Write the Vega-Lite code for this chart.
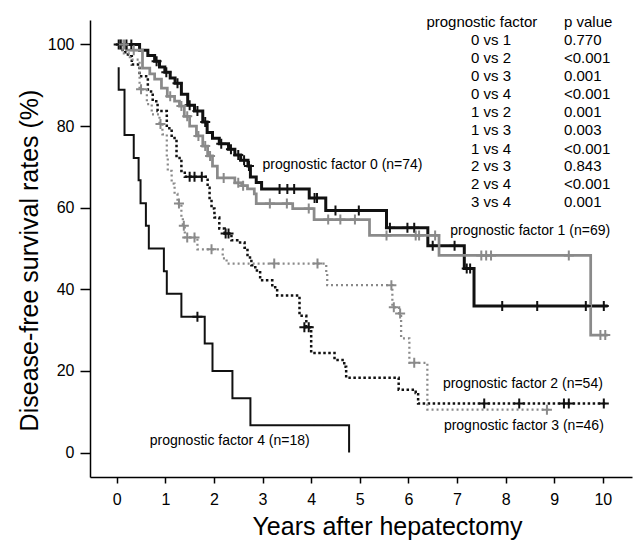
{
  "$schema": "https://vega.github.io/schema/vega-lite/v6.json",
  "width": 542,
  "height": 457,
  "autosize": "none",
  "padding": {"left": 90, "top": 20, "right": 5, "bottom": 65},
  "background": "white",
  "config": {
    "view": {"stroke": null},
    "font": "Liberation Sans",
    "axis": {
      "grid": false,
      "domainColor": "black",
      "domainWidth": 1.5,
      "tickColor": "black",
      "tickWidth": 1.5,
      "labelColor": "black",
      "labelFont": "Liberation Sans",
      "labelFontSize": 16,
      "titleFont": "Liberation Sans",
      "titleFontSize": 25,
      "titleFontWeight": "normal",
      "titleColor": "black"
    }
  },
  "datasets": {
    "curves": [
      {"g": "0", "t": 0, "v": 100}, {"g": "0", "t": 0.47, "v": 98.6}, {"g": "0", "t": 0.64, "v": 97.3}, {"g": "0", "t": 0.78, "v": 95.9}, {"g": "0", "t": 0.88, "v": 94.5}, {"g": "0", "t": 0.99, "v": 93.2}, {"g": "0", "t": 1.1, "v": 91.8}, {"g": "0", "t": 1.2, "v": 90.5}, {"g": "0", "t": 1.33, "v": 87.8}, {"g": "0", "t": 1.46, "v": 85.1}, {"g": "0", "t": 1.6, "v": 83.7}, {"g": "0", "t": 1.77, "v": 81.0}, {"g": "0", "t": 1.86, "v": 78.4}, {"g": "0", "t": 1.97, "v": 77.0}, {"g": "0", "t": 2.11, "v": 75.7}, {"g": "0", "t": 2.3, "v": 74.3}, {"g": "0", "t": 2.43, "v": 72.9}, {"g": "0", "t": 2.55, "v": 71.6}, {"g": "0", "t": 2.7, "v": 70.2}, {"g": "0", "t": 2.75, "v": 67.5}, {"g": "0", "t": 2.87, "v": 66.2}, {"g": "0", "t": 2.98, "v": 64.6}, {"g": "0", "t": 3.96, "v": 62.4}, {"g": "0", "t": 4.3, "v": 59.3}, {"g": "0", "t": 5.55, "v": 55.1}, {"g": "0", "t": 6.4, "v": 50.7}, {"g": "0", "t": 7.15, "v": 45.1}, {"g": "0", "t": 7.35, "v": 35.9}, {"g": "0", "t": 10.1, "v": 35.9},
      {"g": "1", "t": 0, "v": 100}, {"g": "1", "t": 0.2, "v": 98.6}, {"g": "1", "t": 0.53, "v": 94.2}, {"g": "1", "t": 0.68, "v": 92.8}, {"g": "1", "t": 0.78, "v": 91.5}, {"g": "1", "t": 0.92, "v": 89.3}, {"g": "1", "t": 1.04, "v": 87.3}, {"g": "1", "t": 1.19, "v": 86.1}, {"g": "1", "t": 1.29, "v": 84.9}, {"g": "1", "t": 1.39, "v": 82.4}, {"g": "1", "t": 1.5, "v": 80.0}, {"g": "1", "t": 1.64, "v": 77.6}, {"g": "1", "t": 1.77, "v": 75.1}, {"g": "1", "t": 1.87, "v": 72.7}, {"g": "1", "t": 1.97, "v": 70.2}, {"g": "1", "t": 2.07, "v": 67.3}, {"g": "1", "t": 2.43, "v": 66.1}, {"g": "1", "t": 2.57, "v": 65.4}, {"g": "1", "t": 2.69, "v": 64.6}, {"g": "1", "t": 2.83, "v": 63.4}, {"g": "1", "t": 2.87, "v": 61.0}, {"g": "1", "t": 3.62, "v": 59.8}, {"g": "1", "t": 4.06, "v": 57.1}, {"g": "1", "t": 5.2, "v": 53.2}, {"g": "1", "t": 6.63, "v": 48.3}, {"g": "1", "t": 9.75, "v": 28.8}, {"g": "1", "t": 10.1, "v": 28.8},
      {"g": "2", "t": 0, "v": 100}, {"g": "2", "t": 0.12, "v": 98.1}, {"g": "2", "t": 0.23, "v": 97.1}, {"g": "2", "t": 0.31, "v": 95.1}, {"g": "2", "t": 0.47, "v": 92.2}, {"g": "2", "t": 0.64, "v": 88.5}, {"g": "2", "t": 0.74, "v": 86.1}, {"g": "2", "t": 0.84, "v": 83.7}, {"g": "2", "t": 1.03, "v": 79.5}, {"g": "2", "t": 1.13, "v": 77.1}, {"g": "2", "t": 1.23, "v": 72.2}, {"g": "2", "t": 1.33, "v": 69.0}, {"g": "2", "t": 1.4, "v": 67.6}, {"g": "2", "t": 1.87, "v": 64.9}, {"g": "2", "t": 1.91, "v": 62.4}, {"g": "2", "t": 1.95, "v": 59.8}, {"g": "2", "t": 2.01, "v": 57.6}, {"g": "2", "t": 2.11, "v": 54.9}, {"g": "2", "t": 2.22, "v": 53.7}, {"g": "2", "t": 2.36, "v": 52.0}, {"g": "2", "t": 2.48, "v": 51.5}, {"g": "2", "t": 2.63, "v": 50.2}, {"g": "2", "t": 2.69, "v": 47.8}, {"g": "2", "t": 2.77, "v": 45.9}, {"g": "2", "t": 2.85, "v": 44.6}, {"g": "2", "t": 2.95, "v": 42.2}, {"g": "2", "t": 3.2, "v": 40.5}, {"g": "2", "t": 3.3, "v": 38.5}, {"g": "2", "t": 3.76, "v": 33.5}, {"g": "2", "t": 3.9, "v": 30.7}, {"g": "2", "t": 4.0, "v": 24.4}, {"g": "2", "t": 4.48, "v": 22.7}, {"g": "2", "t": 4.68, "v": 21.0}, {"g": "2", "t": 4.72, "v": 18.3}, {"g": "2", "t": 5.8, "v": 15.4}, {"g": "2", "t": 6.15, "v": 14.6}, {"g": "2", "t": 6.2, "v": 12.0}, {"g": "2", "t": 10.1, "v": 12.0},
      {"g": "3", "t": 0, "v": 100}, {"g": "3", "t": 0.12, "v": 97.8}, {"g": "3", "t": 0.27, "v": 96.3}, {"g": "3", "t": 0.47, "v": 89.0}, {"g": "3", "t": 0.62, "v": 85.4}, {"g": "3", "t": 0.72, "v": 82.9}, {"g": "3", "t": 0.88, "v": 80.5}, {"g": "3", "t": 0.94, "v": 78.0}, {"g": "3", "t": 1.03, "v": 72.2}, {"g": "3", "t": 1.05, "v": 69.0}, {"g": "3", "t": 1.13, "v": 65.9}, {"g": "3", "t": 1.19, "v": 63.4}, {"g": "3", "t": 1.25, "v": 61.0}, {"g": "3", "t": 1.33, "v": 57.6}, {"g": "3", "t": 1.36, "v": 55.6}, {"g": "3", "t": 1.4, "v": 52.7}, {"g": "3", "t": 1.66, "v": 49.8}, {"g": "3", "t": 2.18, "v": 47.6}, {"g": "3", "t": 2.26, "v": 46.3}, {"g": "3", "t": 4.31, "v": 43.9}, {"g": "3", "t": 4.33, "v": 41.0}, {"g": "3", "t": 5.67, "v": 35.6}, {"g": "3", "t": 5.81, "v": 34.1}, {"g": "3", "t": 5.85, "v": 28.0}, {"g": "3", "t": 6.02, "v": 22.0}, {"g": "3", "t": 6.39, "v": 10.5}, {"g": "3", "t": 8.89, "v": 10.5},
      {"g": "4", "t": 0.04, "v": 94.4}, {"g": "4", "t": 0.04, "v": 88.9}, {"g": "4", "t": 0.16, "v": 77.8}, {"g": "4", "t": 0.35, "v": 72.2}, {"g": "4", "t": 0.45, "v": 66.7}, {"g": "4", "t": 0.49, "v": 61.1}, {"g": "4", "t": 0.6, "v": 55.6}, {"g": "4", "t": 0.66, "v": 50.0}, {"g": "4", "t": 0.97, "v": 44.4}, {"g": "4", "t": 1.03, "v": 38.9}, {"g": "4", "t": 1.33, "v": 33.3}, {"g": "4", "t": 1.81, "v": 26.7}, {"g": "4", "t": 1.97, "v": 20.0}, {"g": "4", "t": 2.38, "v": 13.3}, {"g": "4", "t": 2.75, "v": 6.7}, {"g": "4", "t": 4.78, "v": 0}
    ],
    "censors": [
      {"g": "0", "t": 0.04, "v": 100}, {"g": "0", "t": 0.2, "v": 100}, {"g": "0", "t": 0.3, "v": 100}, {"g": "0", "t": 0.82, "v": 95.9}, {"g": "0", "t": 1.02, "v": 93.2}, {"g": "0", "t": 1.25, "v": 90.5}, {"g": "0", "t": 1.5, "v": 85.1}, {"g": "0", "t": 1.66, "v": 83.7}, {"g": "0", "t": 1.82, "v": 81.0}, {"g": "0", "t": 2.15, "v": 75.7}, {"g": "0", "t": 2.35, "v": 74.3}, {"g": "0", "t": 2.5, "v": 72.9}, {"g": "0", "t": 2.62, "v": 71.6}, {"g": "0", "t": 2.72, "v": 70.2}, {"g": "0", "t": 3.35, "v": 64.6}, {"g": "0", "t": 3.51, "v": 64.6}, {"g": "0", "t": 3.65, "v": 64.6}, {"g": "0", "t": 4.07, "v": 62.4}, {"g": "0", "t": 4.12, "v": 62.4}, {"g": "0", "t": 4.5, "v": 59.3}, {"g": "0", "t": 4.98, "v": 59.3}, {"g": "0", "t": 5.62, "v": 55.1}, {"g": "0", "t": 5.98, "v": 55.1}, {"g": "0", "t": 6.12, "v": 55.1}, {"g": "0", "t": 6.5, "v": 50.7}, {"g": "0", "t": 6.95, "v": 50.7}, {"g": "0", "t": 7.2, "v": 45.1}, {"g": "0", "t": 7.27, "v": 45.1}, {"g": "0", "t": 7.93, "v": 35.9}, {"g": "0", "t": 8.65, "v": 35.9}, {"g": "0", "t": 9.65, "v": 35.9}, {"g": "0", "t": 10.02, "v": 35.9},
      {"g": "1", "t": 0.1, "v": 100}, {"g": "1", "t": 0.35, "v": 98.6}, {"g": "1", "t": 1.1, "v": 87.3}, {"g": "1", "t": 1.33, "v": 84.9}, {"g": "1", "t": 1.45, "v": 82.4}, {"g": "1", "t": 1.68, "v": 77.6}, {"g": "1", "t": 1.82, "v": 75.1}, {"g": "1", "t": 1.92, "v": 72.7}, {"g": "1", "t": 2.2, "v": 67.3}, {"g": "1", "t": 2.5, "v": 66.1}, {"g": "1", "t": 2.6, "v": 65.4}, {"g": "1", "t": 3.15, "v": 61.0}, {"g": "1", "t": 3.5, "v": 61.0}, {"g": "1", "t": 3.95, "v": 59.8}, {"g": "1", "t": 4.35, "v": 57.1}, {"g": "1", "t": 4.6, "v": 57.1}, {"g": "1", "t": 4.9, "v": 57.1}, {"g": "1", "t": 5.55, "v": 53.2}, {"g": "1", "t": 6.15, "v": 53.2}, {"g": "1", "t": 6.22, "v": 53.2}, {"g": "1", "t": 6.55, "v": 53.2}, {"g": "1", "t": 7.5, "v": 48.3}, {"g": "1", "t": 7.6, "v": 48.3}, {"g": "1", "t": 7.7, "v": 48.3}, {"g": "1", "t": 9.3, "v": 48.3}, {"g": "1", "t": 9.95, "v": 28.8}, {"g": "1", "t": 10.05, "v": 28.8},
      {"g": "2", "t": 0.08, "v": 100}, {"g": "2", "t": 1.5, "v": 67.6}, {"g": "2", "t": 1.6, "v": 67.6}, {"g": "2", "t": 1.75, "v": 67.6}, {"g": "2", "t": 2.24, "v": 53.7}, {"g": "2", "t": 2.3, "v": 53.7}, {"g": "2", "t": 3.86, "v": 30.7}, {"g": "2", "t": 3.95, "v": 30.7}, {"g": "2", "t": 7.56, "v": 12.0}, {"g": "2", "t": 8.28, "v": 12.0}, {"g": "2", "t": 9.2, "v": 12.0}, {"g": "2", "t": 9.3, "v": 12.0}, {"g": "2", "t": 10.02, "v": 12.0},
      {"g": "3", "t": 0.15, "v": 100}, {"g": "3", "t": 0.5, "v": 89.0}, {"g": "3", "t": 0.9, "v": 80.5}, {"g": "3", "t": 1.28, "v": 61.0}, {"g": "3", "t": 1.38, "v": 55.6}, {"g": "3", "t": 1.45, "v": 52.7}, {"g": "3", "t": 1.6, "v": 52.7}, {"g": "3", "t": 1.95, "v": 49.8}, {"g": "3", "t": 3.24, "v": 46.3}, {"g": "3", "t": 4.13, "v": 46.3}, {"g": "3", "t": 5.65, "v": 41.0}, {"g": "3", "t": 5.7, "v": 35.6}, {"g": "3", "t": 5.83, "v": 34.1}, {"g": "3", "t": 6.12, "v": 22.0}, {"g": "3", "t": 8.85, "v": 10.5},
      {"g": "4", "t": 1.66, "v": 33.3}
    ],
    "curveLabels": [
      {"t": 3.0, "v": 70.5, "text": "prognostic factor 0 (n=74)"},
      {"t": 6.86, "v": 54.4, "text": "prognostic factor 1 (n=69)"},
      {"t": 6.71, "v": 16.8, "text": "prognostic factor 2 (n=54)"},
      {"t": 6.73, "v": 6.6, "text": "prognostic factor 3 (n=46)"},
      {"t": 0.68, "v": 2.9, "text": "prognostic factor 4 (n=18)"}
    ],
    "table": [
      {"t": 6.37, "v": 105.6, "text": "prognostic factor"},
      {"t": 9.2, "v": 105.6, "text": "p value"},
      {"t": 7.29, "v": 101.0, "text": "0 vs 1"}, {"t": 9.2, "v": 101.0, "text": "0.770"},
      {"t": 7.29, "v": 96.6, "text": "0 vs 2"}, {"t": 9.2, "v": 96.6, "text": "<0.001"},
      {"t": 7.29, "v": 92.2, "text": "0 vs 3"}, {"t": 9.2, "v": 92.2, "text": "0.001"},
      {"t": 7.29, "v": 87.8, "text": "0 vs 4"}, {"t": 9.2, "v": 87.8, "text": "<0.001"},
      {"t": 7.29, "v": 83.4, "text": "1 vs 2"}, {"t": 9.2, "v": 83.4, "text": "0.001"},
      {"t": 7.29, "v": 79.0, "text": "1 vs 3"}, {"t": 9.2, "v": 79.0, "text": "0.003"},
      {"t": 7.29, "v": 74.5, "text": "1 vs 4"}, {"t": 9.2, "v": 74.5, "text": "<0.001"},
      {"t": 7.29, "v": 70.1, "text": "2 vs 3"}, {"t": 9.2, "v": 70.1, "text": "0.843"},
      {"t": 7.29, "v": 65.7, "text": "2 vs 4"}, {"t": 9.2, "v": 65.7, "text": "<0.001"},
      {"t": 7.29, "v": 61.3, "text": "3 vs 4"}, {"t": 9.2, "v": 61.3, "text": "0.001"}
    ]
  },
  "encoding": {
    "x": {
      "field": "t", "type": "quantitative",
      "scale": {"domain": [-0.55, 10.6], "nice": false, "zero": false},
      "axis": {"values": [0, 1, 2, 3, 4, 5, 6, 7, 8, 9, 10], "tickSize": 6, "labelPadding": 8, "title": "Years after hepatectomy", "titlePadding": 7, "titleX": 297, "labelFlush": false}
    },
    "y": {
      "field": "v", "type": "quantitative",
      "scale": {"domain": [-6, 106], "nice": false, "zero": false},
      "axis": {"values": [0, 20, 40, 60, 80, 100], "tickSize": 10, "labelPadding": 6, "title": "Disease-free survival rates (%)", "titlePadding": 5, "titleY": 240, "labelFlush": false}
    }
  },
  "layer": [
    {
      "data": {"name": "curves"},
      "mark": {"type": "line", "interpolate": "step-after", "strokeCap": "butt", "clip": true},
      "encoding": {
        "detail": {"field": "g", "type": "nominal"},
        "color": {"field": "g", "type": "nominal", "legend": null,
          "scale": {"domain": ["0", "1", "2", "3", "4"], "range": ["#111111", "#8a8a8a", "#111111", "#8a8a8a", "#111111"]}},
        "strokeDash": {"field": "g", "type": "nominal", "legend": null,
          "scale": {"domain": ["0", "1", "2", "3", "4"], "range": [[1, 0], [1, 0], [2.5, 2.5], [2, 3], [1, 0]]}},
        "strokeWidth": {"field": "g", "type": "ordinal", "legend": null,
          "scale": {"domain": ["0", "1", "2", "3", "4"], "range": [3, 2, 3, 2.5, 1.5]}}
      }
    },
    {
      "data": {"name": "censors"},
      "mark": {"type": "point", "shape": "M-1,0L1,0M0,-1L0,1", "filled": false, "size": 100, "strokeWidth": 2, "opacity": 1},
      "encoding": {
        "color": {"field": "g", "type": "nominal", "legend": null}
      }
    },
    {
      "data": {"name": "curveLabels"},
      "mark": {"type": "text", "align": "left", "baseline": "middle", "font": "Liberation Sans", "fontSize": 14, "color": "black"},
      "encoding": {"text": {"field": "text", "type": "nominal"}}
    },
    {
      "data": {"name": "table"},
      "mark": {"type": "text", "align": "left", "baseline": "middle", "font": "Liberation Sans", "fontSize": 15, "color": "black"},
      "encoding": {"text": {"field": "text", "type": "nominal"}}
    }
  ]
}
